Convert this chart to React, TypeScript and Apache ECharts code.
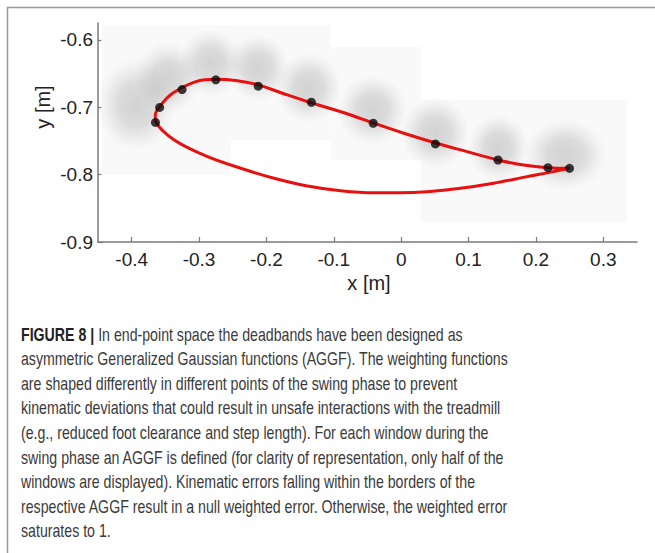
import React, { useEffect, useRef } from "react";
import * as echarts from "echarts";

// Axis ticks (metres)
const xTicks = [-0.4, -0.3, -0.2, -0.1, 0, 0.1, 0.2, 0.3];
const yTicks = [-0.9, -0.8, -0.7, -0.6];

// End-point trajectory of the swing (closed loop): upper branch right→left, lower branch left→right
const pathX = [
  0.2498, 0.2178, 0.1816, 0.1431, 0.0978, 0.0523, 0.0039, -0.0406, -0.0825, -0.1319,
  -0.1763, -0.2124, -0.2455, -0.2751, -0.3047, -0.3393, -0.3566, -0.365, -0.364,
  -0.3369, -0.2874, -0.2381, -0.1887, -0.1393, -0.0899, -0.0406, -0.001, 0.0385,
  0.0878, 0.1372, 0.1867, 0.2261, 0.2483,
];
const pathY = [
  -0.7906, -0.7897, -0.7857, -0.7782, -0.7659, -0.7534, -0.7386, -0.7237, -0.7089, -0.694,
  -0.6792, -0.6668, -0.6604, -0.6584, -0.6619, -0.6792, -0.6965, -0.7114, -0.7213,
  -0.7485, -0.7733, -0.7906, -0.8054, -0.8168, -0.8238, -0.8268, -0.8268, -0.8253,
  -0.8203, -0.8128, -0.803, -0.7956, -0.7906,
];

// Window centres along the swing phase
const windowX = [-0.3647, -0.3585, -0.3252, -0.2751, -0.2122, -0.1333, -0.0415, 0.0508, 0.1437, 0.2178, 0.2498];
const windowY = [-0.7226, -0.7003, -0.6738, -0.6594, -0.6688, -0.6926, -0.7238, -0.7545, -0.7783, -0.7897, -0.7906];

// AGGF deadbands: centre and spread (metres)
const bandX = [-0.3936, -0.3462, -0.2825, -0.2129, -0.1373, -0.0425, 0.0508, 0.1442, 0.2434];
const bandY = [-0.6965, -0.6564, -0.6342, -0.6416, -0.6713, -0.704, -0.7381, -0.7604, -0.7708];
const bandSx = [0.058, 0.05, 0.048, 0.048, 0.05, 0.052, 0.052, 0.046, 0.062];
const bandSy = [0.07, 0.054, 0.05, 0.05, 0.053, 0.053, 0.053, 0.05, 0.054];

// Background tiles of the deadband maps: [x0, y0, x1, y1]
const tileX0 = [-0.445, -0.2531, -0.1046, 0.0287];
const tileY0 = [-0.5785, -0.5785, -0.6104, -0.6891];
const tileX1 = [-0.2531, -0.1046, 0.0287, 0.335];
const tileY1 = [-0.8005, -0.7485, -0.7782, -0.8703];

const captionLines = [
  "In end-point space the deadbands have been designed as",
  "asymmetric Generalized Gaussian functions (AGGF). The weighting functions",
  "are shaped differently in different points of the swing phase to prevent",
  "kinematic deviations that could result in unsafe interactions with the treadmill",
  "(e.g., reduced foot clearance and step length). For each window during the",
  "swing phase an AGGF is defined (for clarity of representation, only half of the",
  "windows are displayed). Kinematic errors falling within the borders of the",
  "respective AGGF result in a null weighted error. Otherwise, the weighted error",
  "saturates to 1.",
];

const FONT = "'Liberation Sans', Arial, Helvetica, sans-serif";

export default function App() {
  const ref = useRef<HTMLDivElement>(null);

  useEffect(() => {
    document.body.style.margin = "0";
    if (!ref.current) return;
    const chart = echarts.init(ref.current, null, { renderer: "svg" });

    const loop = pathX.map((x, i) => [x, pathY[i]]);
    const windows = windowX.map((x, i) => [x, windowY[i]]);
    const bands = bandX.map((x, i) => [x, bandY[i], bandSx[i], bandSy[i]]);
    const tiles = tileX0.map((x, i) => [x, tileY0[i], tileX1[i], tileY1[i]]);

    const captionGraphics = captionLines.map((line, i) => ({
      type: "text",
      x: 21,
      y: 334 + i * 24.6,
      scaleX: 0.787,
      style: {
        text: i === 0 ? `{b|FIGURE 8 |} ${line}` : line,
        font: `18px ${FONT}`,
        fill: "#3a3a3a",
        verticalAlign: "middle",
        rich: i === 0 ? { b: { fontWeight: "bold", fontSize: 18, fontFamily: FONT, fill: "#222" } } : undefined,
      },
    }));

    const axisCommon = {
      type: "value",
      axisLine: { show: true, onZero: false, lineStyle: { color: "#7a7a7a", width: 1.5 } },
      splitLine: { show: false },
    };

    chart.setOption({
      animation: false,
      grid: { left: 98, top: 23, right: 18, bottom: 311, containLabel: false },
      xAxis: {
        ...axisCommon,
        min: -0.45,
        max: 0.35,
        axisTick: { show: true, inside: true, length: 5, customValues: xTicks, lineStyle: { color: "#7a7a7a", width: 1.2 } },
        axisLabel: { customValues: xTicks, margin: 8, fontSize: 19, fontFamily: FONT, color: "#222" },
      },
      yAxis: {
        ...axisCommon,
        min: -0.9,
        max: -0.575,
        axisTick: { show: true, inside: true, length: 5, customValues: yTicks, lineStyle: { color: "#7a7a7a", width: 1.2 } },
        axisLabel: { customValues: yTicks, margin: 5, fontSize: 19, fontFamily: FONT, color: "#222" },
      },
      graphic: [
        {
          type: "rect",
          shape: { x: 7.5, y: 7.5, width: 700, height: 600 },
          style: { fill: "none", stroke: "#9a9a9a", lineWidth: 1.5 },
          silent: true,
        },
        { type: "text", x: 369, y: 283, style: { text: "x [m]", font: `20px ${FONT}`, fill: "#222", align: "center", verticalAlign: "middle" } },
        { type: "text", x: 43, y: 107, rotation: Math.PI / 2, style: { text: "y [m]", font: `20px ${FONT}`, fill: "#222", align: "center", verticalAlign: "middle" } },
        ...captionGraphics,
      ],
      series: [
        {
          type: "custom",
          name: "tiles",
          data: tiles,
          silent: true,
          z: 1,
          renderItem: (_p: any, api: any) => {
            const a = api.coord([api.value(0), api.value(1)]);
            const b = api.coord([api.value(2), api.value(3)]);
            return {
              type: "rect",
              shape: { x: a[0], y: a[1], width: b[0] - a[0], height: b[1] - a[1] },
              style: { fill: "#f9f9f9" },
            };
          },
        },
        {
          type: "custom",
          name: "deadbands",
          data: bands,
          silent: true,
          z: 2,
          renderItem: (_p: any, api: any) => {
            const c = api.coord([api.value(0), api.value(1)]);
            const s = api.size([api.value(2), api.value(3)]);
            return {
              type: "ellipse",
              shape: { cx: c[0], cy: c[1], rx: s[0], ry: s[1] },
              style: {
                fill: new echarts.graphic.RadialGradient(0.5, 0.5, 0.5, [
                  { offset: 0, color: "rgba(120,120,120,0.30)" },
                  { offset: 0.45, color: "rgba(125,125,125,0.24)" },
                  { offset: 0.75, color: "rgba(140,140,140,0.10)" },
                  { offset: 1, color: "rgba(170,170,170,0)" },
                ]),
              },
            };
          },
        },
        {
          type: "line",
          name: "trajectory",
          data: loop,
          smooth: 0.3,
          showSymbol: false,
          z: 3,
          lineStyle: { color: "#e8100f", width: 3 },
        },
        {
          type: "scatter",
          name: "windows",
          data: windows,
          symbolSize: 9,
          z: 4,
          itemStyle: { color: "#0a0a0a" },
        },
      ],
    });

    return () => chart.dispose();
  }, []);

  return <div ref={ref} style={{ width: 655, height: 553 }} />;
}
